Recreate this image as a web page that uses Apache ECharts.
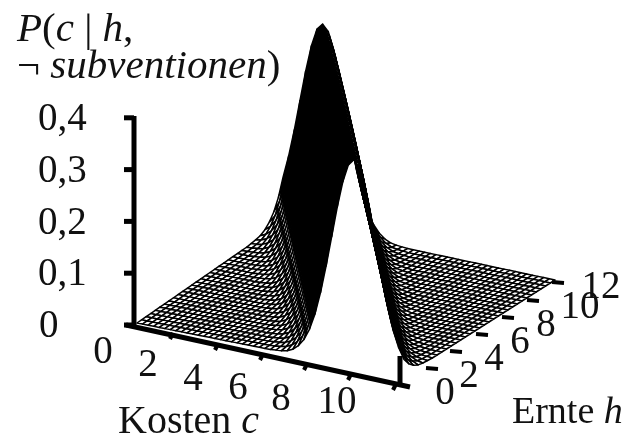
<!DOCTYPE html>
<html><head><meta charset="utf-8">
<style>html,body{margin:0;padding:0;background:#fff}#c{width:630px;height:442px}</style>
<script src="https://cdn.jsdelivr.net/npm/echarts@6/dist/echarts.min.js"></script>
</head><body><div id="c"></div>
<script>
// ---- data ----
const costValues = [0,0.25,0.5,0.75,1,1.25,1.5,1.75,2,2.25,2.5,2.75,3,3.25,3.5,3.75,4,4.25,4.5,4.75,5,5.25,5.5,5.75,6,6.25,6.5,6.75,7,7.25,7.5,7.75,8,8.25,8.5,8.75,9,9.25,9.5,9.75,10,10.25,10.5,10.75,11,11.25,11.5,11.75,12];
const harvestValues = [0,0.375,0.75,1.125,1.5,1.875,2.25,2.625,3,3.375,3.75,4.125,4.5,4.875,5.25,5.625,6,6.375,6.75,7.125,7.5,7.875,8.25,8.625,9,9.375,9.75,10.125,10.5,10.875,11.25,11.625,12];
// index into costValues of the ridge top, one entry per harvest row
const ridgeIndex = [39,38,37,36,35,34,33,32,31,30,29,28,27,26,25,24,23,22,21,20,19,18,17,16,15,14,13,12,11,10,9,8,7];
// height of the ridge cross-section, per 0.25 cost step away from the top
const ridgeProfile = [0.399,0.387,0.352,0.301,0.242,0.183,0.130,0.086,0.054,0.032,0.018,0.009,0.004,0.002,0.001];
const zTicks = ["0","0,1","0,2","0,3","0,4"];
const zTickValues = [0,0.1,0.2,0.3,0.4];
const costTicks = ["0","2","4","6","8","10"];
const harvestTicks = ["0","2","4","6","8","10","12"];

// ---- table and projection ----
const table = harvestValues.map((h,r)=>costValues.map((c,k)=>{
  const v = ridgeProfile[Math.abs(k-ridgeIndex[r])];
  return v===undefined?0:v;
}));
const A=[137,323],B=[404,376],C=[283,222],D=[555,280],Z=517;
function project(c,h,p){
  const u=c/12,v=h/12;
  const x=(1-u)*(1-v)*A[0]+u*(1-v)*B[0]+(1-u)*v*C[0]+u*v*D[0];
  const y=(1-u)*(1-v)*A[1]+u*(1-v)*B[1]+(1-u)*v*C[1]+u*v*D[1]-p*Z;
  return [x,y];
}
// far-to-near paint order: high harvest first, low cost first
const cells=[];
for(let r=harvestValues.length-2;r>=0;r--){
  for(let k=0;k<costValues.length-1;k++) cells.push([r,k]);
}
function vertex(r,k){return project(costValues[k],harvestValues[r],table[r][k]);}
// the rising side of the ridge is seen from underneath, where the mesh closes up
function cellFill(r,k){
  const rising = table[r][k+1]>table[r][k];
  const mean = (table[r][k]+table[r][k+1]+table[r+1][k]+table[r+1][k+1])/4;
  return rising && mean>0.07 ? '#000' : '#fff';
}

// ---- layout of the axis furniture ----
const zAxisX=134, zBase=325, zPerUnit=518;
const costLabelPos=[[103,353],[148,366],[193,380],[238,389],[281,400],[337,403]];
const harvestLabelPos=[[445,394],[469,377],[494,360],[520,343],[546,326],[580,308],[601,288]];
const costTickPos=[[172,336],[217,347],[262,357],[306,367],[350,377],[395,387]];
const harvestTickPos=[[407,384],[432,368],[456,351],[482,334],[508,317],[533,300],[558,282]];
const font='"Liberation Serif","Times New Roman",serif';
const ink='#000';
function label(t,p){return {type:'text',x:p[0],y:p[1],z:10,style:{text:t,font:'39px '+font,fill:'#111',align:'center',verticalAlign:'middle'}};}
function bar(x1,y1,x2,y2,w){return {type:'line',z:9,shape:{x1,y1,x2,y2},style:{stroke:ink,lineWidth:w}};}
const g=[];
g.push(bar(zAxisX,116,zAxisX,327,5));
zTickValues.forEach((v,i)=>{
  const y=zBase-v*zPerUnit;
  g.push(bar(zAxisX-10,y,zAxisX,y,5));
  g.push({type:'text',x:i===0?39:38,y:y+2,z:10,style:{text:zTicks[i],font:'39px '+font,fill:'#111',align:'left',verticalAlign:'middle'}});
});
g.push(bar(126,325,410,387,5));
g.push(bar(400,356,400,386,5));
costTickPos.forEach(p=>g.push(bar(p[0]+1,p[1]-3,p[0]-2,p[1]+3,4)));
harvestTickPos.slice(1).forEach(p=>g.push(bar(p[0]-6,p[1],p[0]+6,p[1]+1,4)));
costTicks.forEach((t,i)=>g.push(label(t,costLabelPos[i])));
harvestTicks.forEach((t,i)=>g.push(label(t,harvestLabelPos[i])));
function rich(x,y,size,parts){
  return {type:'text',x,y,z:10,style:{
    text:parts.map(p=>p[1]?'{i|'+p[0]+'}':'{r|'+p[0]+'}').join(''),
    fill:'#111',align:'left',verticalAlign:'middle',
    rich:{i:{font:'italic '+size+'px '+font,fill:'#111'},r:{font:size+'px '+font,fill:'#111'}}
  }};
}
g.push(rich(17,30,41,[['P',1],['(',0],['c',1],[' | ',0],['h',1],[',',0]]));
g.push(rich(17,67,41,[['\u00AC ',0],['subventionen',1],[')',0]]));
g.push(rich(118,422,40,[['Kosten ',0],['c',1]]));
g.push(rich(512,413,38,[['Ernte ',0],['h',1]]));

const chart=echarts.init(document.getElementById('c'),null,{renderer:'canvas'});
chart.setOption({
  animation:false,
  backgroundColor:'#fff',
  grid:{left:0,right:0,top:0,bottom:0},
  xAxis:{type:'value',min:0,max:630,show:false},
  yAxis:{type:'value',min:0,max:442,inverse:true,show:false},
  graphic:g,
  series:[{
    type:'custom',
    coordinateSystem:'cartesian2d',
    progressive:0,
    silent:true,
    encode:{x:0,y:1},
    data:cells,
    renderItem(params,api){
      const r=api.value(0),k=api.value(1);
      const pts=[vertex(r,k),vertex(r,k+1),vertex(r+1,k+1),vertex(r+1,k)].map(p=>api.coord(p));
      return {type:'polygon',shape:{points:pts},style:{fill:cellFill(r,k),stroke:'#000',lineWidth:1.5,lineJoin:'round'}};
    }
  }]
});
</script></body></html>
